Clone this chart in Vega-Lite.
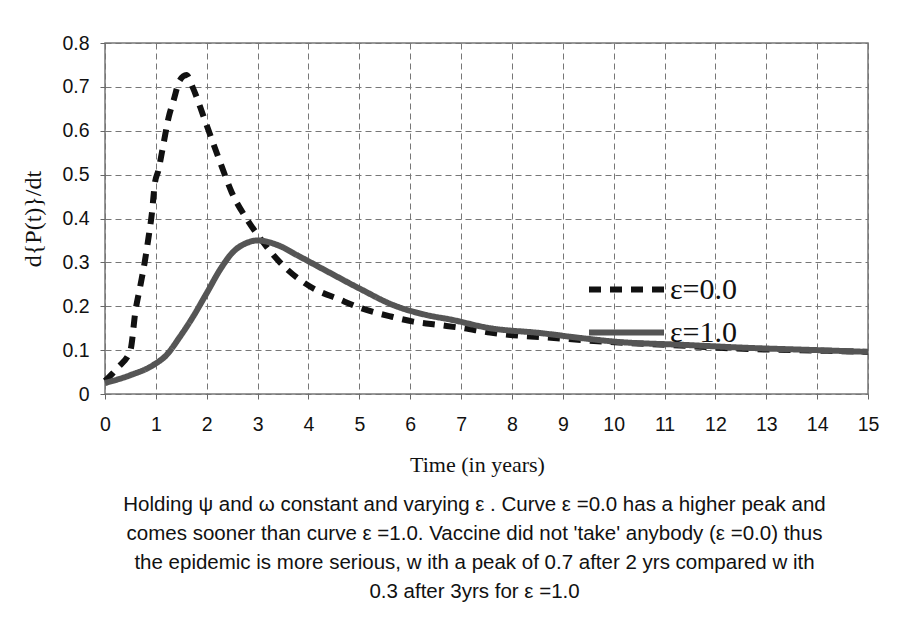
{
  "$schema": "https://vega.github.io/schema/vega-lite/v6.json",
  "width": 763,
  "height": 351,
  "autosize": {"type": "none"},
  "padding": {"left": 105, "top": 43, "right": 29, "bottom": 230},
  "background": "white",
  "config": {
    "view": {"stroke": "#777", "strokeWidth": 1.5},
    "axis": {
      "domain": false,
      "grid": true,
      "gridDash": [6, 4],
      "gridColor": "#777",
      "gridWidth": 1,
      "gridOpacity": 1,
      "tickColor": "#666",
      "tickSize": 5,
      "labelFont": "Liberation Sans",
      "labelFontSize": 19.5,
      "labelColor": "#111",
      "titleFont": "Liberation Serif",
      "titleFontWeight": "normal",
      "titleColor": "#111"
    }
  },
  "title": {
    "text": [
      "Holding ψ and ω constant and varying ε . Curve  ε =0.0 has a higher peak  and",
      "comes sooner than curve ε =1.0. Vaccine did not 'take' anybody (ε =0.0) thus",
      "the epidemic is more serious, w ith a peak of 0.7 after 2 yrs compared w ith",
      "0.3 after 3yrs for ε =1.0"
    ],
    "orient": "bottom",
    "anchor": "middle",
    "frame": "group",
    "dx": -12,
    "offset": 19,
    "font": "Liberation Sans",
    "fontSize": 20.5,
    "fontWeight": "normal",
    "color": "#111",
    "lineHeight": 29
  },
  "data": {
    "values": [
      {"t": 0.0, "v": 0.03, "series": "ε=0.0"},
      {"t": 0.25, "v": 0.06, "series": "ε=0.0"},
      {"t": 0.5, "v": 0.1, "series": "ε=0.0"},
      {"t": 0.6, "v": 0.19, "series": "ε=0.0"},
      {"t": 0.7, "v": 0.25, "series": "ε=0.0"},
      {"t": 0.78, "v": 0.3, "series": "ε=0.0"},
      {"t": 0.86, "v": 0.36, "series": "ε=0.0"},
      {"t": 0.92, "v": 0.41, "series": "ε=0.0"},
      {"t": 0.98, "v": 0.48, "series": "ε=0.0"},
      {"t": 1.05, "v": 0.51, "series": "ε=0.0"},
      {"t": 1.15, "v": 0.57, "series": "ε=0.0"},
      {"t": 1.25, "v": 0.63, "series": "ε=0.0"},
      {"t": 1.35, "v": 0.67, "series": "ε=0.0"},
      {"t": 1.47, "v": 0.715, "series": "ε=0.0"},
      {"t": 1.6, "v": 0.727, "series": "ε=0.0"},
      {"t": 1.72, "v": 0.7, "series": "ε=0.0"},
      {"t": 1.93, "v": 0.635, "series": "ε=0.0"},
      {"t": 2.1, "v": 0.58, "series": "ε=0.0"},
      {"t": 2.29, "v": 0.52, "series": "ε=0.0"},
      {"t": 2.49, "v": 0.46, "series": "ε=0.0"},
      {"t": 2.78, "v": 0.4, "series": "ε=0.0"},
      {"t": 3.05, "v": 0.355, "series": "ε=0.0"},
      {"t": 3.44, "v": 0.3, "series": "ε=0.0"},
      {"t": 4.03, "v": 0.245, "series": "ε=0.0"},
      {"t": 4.62, "v": 0.215, "series": "ε=0.0"},
      {"t": 5.05, "v": 0.195, "series": "ε=0.0"},
      {"t": 5.64, "v": 0.176, "series": "ε=0.0"},
      {"t": 6.06, "v": 0.165, "series": "ε=0.0"},
      {"t": 6.59, "v": 0.157, "series": "ε=0.0"},
      {"t": 7.04, "v": 0.15, "series": "ε=0.0"},
      {"t": 7.57, "v": 0.14, "series": "ε=0.0"},
      {"t": 8.02, "v": 0.134, "series": "ε=0.0"},
      {"t": 8.55, "v": 0.13, "series": "ε=0.0"},
      {"t": 9.87, "v": 0.119, "series": "ε=0.0"},
      {"t": 11.05, "v": 0.112, "series": "ε=0.0"},
      {"t": 12.54, "v": 0.103, "series": "ε=0.0"},
      {"t": 14.0, "v": 0.099, "series": "ε=0.0"},
      {"t": 15.0, "v": 0.096, "series": "ε=0.0"},
      {"t": 0.0, "v": 0.025, "series": "ε=1.0"},
      {"t": 0.5, "v": 0.043, "series": "ε=1.0"},
      {"t": 0.95, "v": 0.066, "series": "ε=1.0"},
      {"t": 1.21, "v": 0.089, "series": "ε=1.0"},
      {"t": 1.47, "v": 0.13, "series": "ε=1.0"},
      {"t": 1.73, "v": 0.176, "series": "ε=1.0"},
      {"t": 2.0, "v": 0.23, "series": "ε=1.0"},
      {"t": 2.26, "v": 0.283, "series": "ε=1.0"},
      {"t": 2.52, "v": 0.324, "series": "ε=1.0"},
      {"t": 2.78, "v": 0.344, "series": "ε=1.0"},
      {"t": 3.0, "v": 0.35, "series": "ε=1.0"},
      {"t": 3.38, "v": 0.34, "series": "ε=1.0"},
      {"t": 3.83, "v": 0.313, "series": "ε=1.0"},
      {"t": 4.36, "v": 0.28, "series": "ε=1.0"},
      {"t": 5.01, "v": 0.24, "series": "ε=1.0"},
      {"t": 5.66, "v": 0.203, "series": "ε=1.0"},
      {"t": 6.32, "v": 0.18, "series": "ε=1.0"},
      {"t": 6.78, "v": 0.17, "series": "ε=1.0"},
      {"t": 7.57, "v": 0.15, "series": "ε=1.0"},
      {"t": 8.55, "v": 0.139, "series": "ε=1.0"},
      {"t": 9.4, "v": 0.127, "series": "ε=1.0"},
      {"t": 10.06, "v": 0.119, "series": "ε=1.0"},
      {"t": 11.37, "v": 0.112, "series": "ε=1.0"},
      {"t": 12.68, "v": 0.105, "series": "ε=1.0"},
      {"t": 14.0, "v": 0.1, "series": "ε=1.0"},
      {"t": 15.0, "v": 0.096, "series": "ε=1.0"}
    ]
  },
  "mark": {"type": "line", "interpolate": "monotone", "strokeWidth": 6, "strokeCap": "butt"},
  "encoding": {
    "x": {
      "field": "t",
      "type": "quantitative",
      "scale": {"domain": [0, 15], "nice": false},
      "axis": {
        "values": [0, 1, 2, 3, 4, 5, 6, 7, 8, 9, 10, 11, 12, 13, 14, 15],
        "title": "Time (in years)",
        "titleFontSize": 22,
        "titlePadding": 21,
        "titleX": 372,
        "labelPadding": 16,
        "labelFlush": false
      }
    },
    "y": {
      "field": "v",
      "type": "quantitative",
      "scale": {"domain": [0, 0.8], "nice": false},
      "axis": {
        "values": [0, 0.1, 0.2, 0.3, 0.4, 0.5, 0.6, 0.7, 0.8],
        "format": "~g",
        "title": "d{P(t)}/dt",
        "titleFontSize": 24,
        "titlePadding": 16,
        "labelPadding": 11,
        "labelFlush": false
      }
    },
    "color": {
      "field": "series",
      "type": "nominal",
      "scale": {"domain": ["ε=0.0", "ε=1.0"], "range": ["#111111", "#555555"]},
      "legend": {
        "title": null,
        "orient": "none",
        "legendX": 481,
        "legendY": 226,
        "symbolType": "stroke",
        "symbolSize": 5625,
        "symbolStrokeWidth": 6,
        "clipHeight": 41,
        "rowPadding": 2,
        "labelFont": "Liberation Serif",
        "labelFontSize": 30,
        "labelColor": "#111",
        "labelOffset": 3
      }
    },
    "strokeDash": {
      "field": "series",
      "type": "nominal",
      "scale": {"domain": ["ε=0.0", "ε=1.0"], "range": [[12, 9], [1, 0]]},
      "legend": null
    }
  }
}
